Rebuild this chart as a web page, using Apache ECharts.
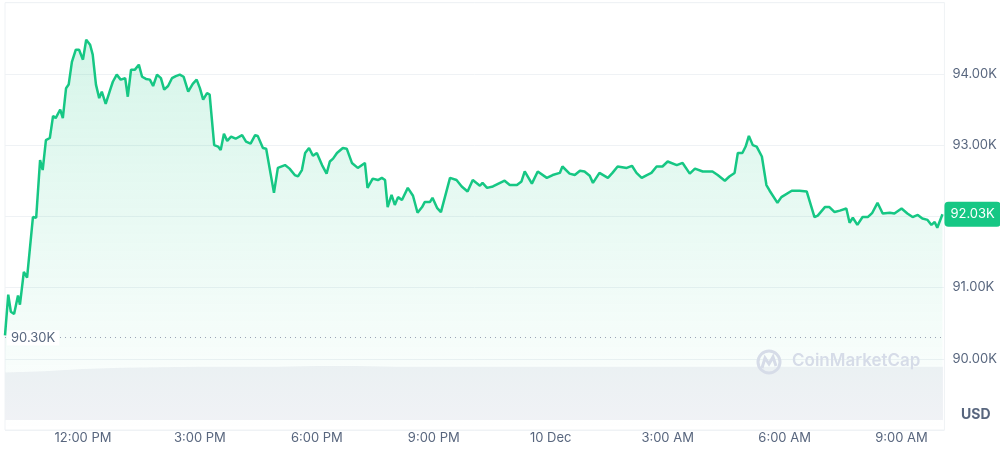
<!DOCTYPE html>
<html>
<head>
<meta charset="utf-8">
<script src="https://cdn.jsdelivr.net/npm/echarts@6/dist/echarts.min.js"></script>
<style>
  html, body { margin: 0; padding: 0; background: #fff; }
  #chart { width: 1000px; height: 449px; }
</style>
</head>
<body>
<div id="chart"></div>
<script>
// minutes since 10:00 AM, 9 Dec
const minutes = [0,5,9,14,20,23,29,34,43,48,54,58,63,69,74,78,85,89,94,98,103,109,114,120,125,131,135,140,145,149,155,162,166,172,178,185,189,194,200,206,211,217,223,228,234,240,245,251,257,263,269,275,282,289,295,300,305,311,315,322,328,332,337,342,348,355,365,371,378,385,389,397,402,414,420,431,438,446,451,457,462,468,474,480,488,495,500,505,511,520,526,534,543,554,558,566,574,580,585,589,595,600,605,611,620,628,635,642,646,654,658,665,671,685,695,703,712,720,731,735,742,751,762,769,777,788,795,800,811,820,834,843,854,858,869,877,885,892,900,905,915,928,935,943,957,965,972,980,988,995,1003,1012,1020,1034,1043,1054,1062,1074,1089,1097,1108,1115,1123,1128,1135,1140,1145,1151,1157,1165,1172,1177,1189,1195,1211,1223,1234,1246,1251,1262,1269,1277,1285,1295,1300,1305,1312,1320,1328,1335,1343,1351,1362,1369,1380,1389,1397,1405,1412,1420,1426,1431,1435,1443];
// price in thousands USD
const prices = [90.33,90.90,90.66,90.63,90.89,90.76,91.22,91.14,91.99,91.98,92.79,92.65,93.07,93.10,93.41,93.38,93.50,93.38,93.80,93.85,94.17,94.34,94.34,94.20,94.48,94.41,94.27,93.85,93.66,93.75,93.58,93.78,93.89,93.99,93.92,93.94,93.68,94.06,94.06,94.13,93.96,93.93,93.92,93.83,93.99,93.94,93.78,93.83,93.94,93.97,93.99,93.96,93.75,93.86,93.92,93.80,93.64,93.73,93.71,93.00,92.98,92.93,93.16,93.06,93.12,93.09,93.14,93.05,93.02,93.14,93.13,92.96,92.95,92.33,92.68,92.72,92.67,92.58,92.56,92.65,92.89,92.96,92.85,92.89,92.72,92.60,92.77,92.81,92.89,92.96,92.95,92.75,92.68,92.75,92.40,92.53,92.51,92.54,92.51,92.13,92.30,92.16,92.27,92.23,92.40,92.29,92.05,92.13,92.20,92.20,92.26,92.12,92.06,92.54,92.51,92.42,92.35,92.51,92.43,92.47,92.40,92.42,92.47,92.50,92.44,92.44,92.49,92.63,92.46,92.63,92.54,92.58,92.61,92.70,92.60,92.58,92.64,92.63,92.57,92.47,92.61,92.54,92.61,92.70,92.68,92.71,92.61,92.54,92.58,92.61,92.70,92.70,92.77,92.72,92.75,92.60,92.67,92.63,92.63,92.58,92.50,92.56,92.61,92.89,92.89,92.98,93.13,93.00,92.98,92.84,92.44,92.36,92.19,92.27,92.36,92.36,92.35,91.99,92.01,92.13,92.13,92.06,92.08,92.11,91.91,91.98,91.88,91.99,91.99,92.05,92.19,92.04,92.05,92.04,92.11,92.04,91.99,92.02,91.97,91.95,91.88,91.92,91.84,92.03];
// volume (relative), every hour
const volMinutes = [0,60,120,180,240,300,360,420,480,540,600,660,720,780,840,900,960,1020,1080,1140,1200,1260,1320,1380,1443];
const volumes = [82,84,88,90,91,92,92,92,93,93,92,92,92,92,92,92,92,92,92,92,92,92,92,92,92];

const tickMinutes = [120,300,480,660,840,1020,1200,1380];
const tickLabels = ['12:00 PM','3:00 PM','6:00 PM','9:00 PM','10 Dec','3:00 AM','6:00 AM','9:00 AM'];
const yTicks = [90,91,92,93,94];
const openPrice = 90.30;
const lastPrice = 92.03;

const priceData = minutes.map((m, i) => [m, prices[i]]);
const volData = volMinutes.map((m, i) => [m, volumes[i]]);

const chart = echarts.init(document.getElementById('chart'));
const labelColor = '#58667e';

chart.setOption({
  animation: false,
  grid: [
    { left: 5, right: 55, top: 2.7, bottom: 19, show: true, borderColor: '#eff2f5', borderWidth: 1 },
    { left: 5, right: 55, top: 362, bottom: 29 }
  ],
  xAxis: [
    {
      type: 'value', gridIndex: 0, min: 0, max: 1446,
      axisLine: { show: false }, splitLine: { show: false },
      axisTick: { show: false },
      axisLabel: {
        customValues: tickMinutes, color: labelColor, fontSize: 13,
        fontFamily: 'Inter', margin: 2,
        formatter: v => tickLabels[tickMinutes.indexOf(v)] || ''
      }
    },
    {
      type: 'value', gridIndex: 1, min: 0, max: 1446, show: false
    }
  ],
  yAxis: [
    {
      type: 'value', gridIndex: 0, position: 'right', min: 89, max: 95, interval: 1,
      axisLine: { show: false }, axisTick: { show: false },
      splitLine: { lineStyle: { color: '#eff2f5' } },
      axisLabel: {
        color: labelColor, fontSize: 13, fontFamily: 'Inter', margin: 8,
        formatter: v => yTicks.indexOf(v) >= 0 ? v.toFixed(2) + 'K' : ''
      }
    },
    { type: 'value', gridIndex: 1, min: 0, max: 100, show: false }
  ],
  graphic: [
    { type: 'circle', shape: { cx: 769, cy: 362, r: 11 }, style: { fill: 'none', stroke: '#d6dce8', lineWidth: 3 }, z: 100 },
    { type: 'polyline', shape: { points: [[762, 368], [765, 358], [769, 364], [773, 357], [776, 366]] }, style: { fill: 'none', stroke: '#d6dce8', lineWidth: 3 }, z: 100 },
    { type: 'text', left: 792, top: 352, style: { text: 'CoinMarketCap', fill: '#d6dce8', font: '600 17px Inter' }, z: 100 },
    { type: 'text', left: 961, top: 408, style: { text: 'USD', fill: labelColor, font: 'bold 14px Inter' } }
  ],
  series: [
    {
      type: 'line', xAxisIndex: 1, yAxisIndex: 1, data: volData, symbol: 'none',
      lineStyle: { width: 0 }, areaStyle: { color: '#f1f2f6', opacity: 1 }
    },
    {
      type: 'line', data: priceData, symbol: 'none',
      lineStyle: { color: '#16c784', width: 2.5 },
      areaStyle: {
        origin: 'start',
        color: new echarts.graphic.LinearGradient(0, 0, 0, 1, [
          { offset: 0, color: 'rgba(22,199,132,0.25)' },
          { offset: 1, color: 'rgba(22,199,132,0)' }
        ])
      },
      markLine: {
        silent: true, symbol: 'none',
        data: [
          {
            yAxis: openPrice,
            lineStyle: { color: '#9aa3b5', type: [1, 4], width: 1 },
            label: {
              position: 'insideStartTop', distance: [2, -8], formatter: '90.30K',
              color: labelColor, fontSize: 13, fontFamily: 'Inter',
              backgroundColor: '#fff', padding: [1, 4]
            }
          },
          {
            yAxis: lastPrice,
            lineStyle: { width: 0, color: 'transparent' },
            label: {
              show: true, position: 'end', distance: 0, formatter: '92.03K',
              color: '#fff', fontSize: 13, fontFamily: 'Inter',
              backgroundColor: '#16c784', borderRadius: 4, padding: [6, 6]
            }
          }
        ]
      }
    }
  ]
});
</script>
</body>
</html>
